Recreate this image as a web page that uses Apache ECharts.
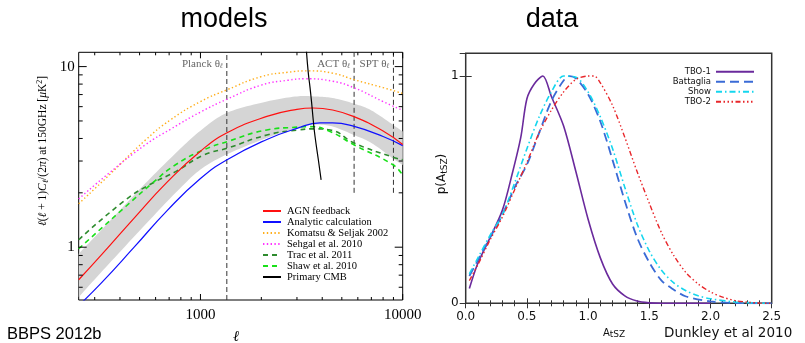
<!DOCTYPE html>
<html><head><meta charset="utf-8">
<script src="https://cdn.jsdelivr.net/npm/echarts@6/dist/echarts.min.js"></script>
<style>html,body{margin:0;padding:0;background:#fff;}#c{width:805px;height:343px;}</style>
</head><body><div id="c"></div>
<script>
// ---------------- LEFT PANEL DATA (models) ----------------
const agnL = [250, 322, 470, 686, 1000, 1354, 2130, 3000, 3600, 4500, 5700, 8000, 10000];
const agnV = [0.66, 0.90, 1.45, 2.3, 3.4, 4.3, 5.3, 5.8, 5.9, 5.75, 5.3, 4.4, 3.7];
const anaL = [250, 322, 470, 686, 1000, 1354, 2130, 3000, 3900, 4500, 5700, 8000, 10000];
const anaV = [0.475, 0.63, 1.0, 1.6, 2.4, 3.05, 3.95, 4.55, 4.88, 4.88, 4.68, 4.1, 3.65];
const ksL = [250, 350, 536, 711, 1000, 1354, 2000, 2700, 3400, 4500, 5800, 8000, 10000];
const ksV = [1.74, 2.48, 3.93, 5.07, 6.4, 7.44, 8.8, 9.3, 9.47, 9.2, 8.44, 7.65, 7.1];
const sgL = [250, 350, 536, 711, 1000, 1354, 2000, 2700, 3300, 4500, 5800, 8000, 10000];
const sgV = [1.85, 2.55, 3.7, 4.5, 5.6, 6.6, 7.9, 8.4, 8.56, 8.3, 7.6, 6.4, 5.72];
const trL = [250, 427, 578, 753, 1038, 1354, 2131, 3000, 3700, 4372, 5763, 8950, 10000];
const trV = [1.1, 1.83, 2.26, 2.62, 3.24, 3.53, 4.18, 4.45, 4.52, 4.46, 3.77, 3.15, 3.05];
const shL = [250, 427, 578, 753, 1038, 1354, 2131, 3000, 3484, 4372, 5763, 8950, 10000];
const shV = [0.98, 1.68, 2.26, 2.86, 3.46, 3.84, 4.46, 4.62, 4.65, 4.37, 3.68, 2.86, 2.5];
const cmbL = [3340, 3414, 3480, 3546, 3615, 3686, 3829, 3950];
const cmbV = [12.3, 9.2, 7.7, 6.3, 5.0, 4.1, 3.04, 2.36];
const bandL  = [250, 353, 516, 753, 1000, 1354, 2131, 3000, 3700, 4500, 5763, 7000, 8950, 10000];
const bandUp = [0.92, 1.38, 2.17, 3.31, 4.42, 5.55, 6.41, 6.84, 6.83, 6.7, 6.23, 5.72, 4.76, 4.37];
const bandLo = [0.53, 0.81, 1.28, 2.0, 2.69, 3.27, 4.03, 4.58, 4.77, 4.66, 4.17, 3.78, 3.1, 2.85];
const planckL = 1350, actL = 5750, sptL = 9000;
const expLineBottom = 2.0;
const leftXRange = [250, 10000];
const leftYRange = [0.51, 12];
const xMajorTicks = [1000, 10000];
const xMinorTicks = [300, 400, 500, 600, 700, 800, 900, 2000, 3000, 4000, 5000, 6000, 7000, 8000, 9000];
const yMajorTicks = [1, 10];
const yMinorTicks = [0.6, 0.7, 0.8, 0.9, 2, 3, 4, 5, 6, 7, 8, 9];

// ---------------- RIGHT PANEL DATA (data) ----------------
const tbo1A = [0.03, 0.1, 0.2, 0.3, 0.38, 0.45, 0.5, 0.56, 0.63, 0.7, 0.8, 0.9, 1.0, 1.1, 1.2, 1.3, 1.4, 1.5, 1.6, 1.8, 2.0];
const tbo1P = [0.065, 0.177, 0.29, 0.41, 0.57, 0.73, 0.9, 0.965, 1.0, 0.91, 0.78, 0.58, 0.37, 0.2, 0.085, 0.033, 0.01, 0.002, 0, 0, 0];
const battA = [0.03, 0.1, 0.2, 0.3, 0.4, 0.5, 0.6, 0.7, 0.8, 0.85, 0.9, 1.0, 1.1, 1.2, 1.3, 1.4, 1.5, 1.6, 1.7, 1.8, 2.0, 2.2, 2.5];
const battP = [0.12, 0.19, 0.29, 0.39, 0.51, 0.61, 0.75, 0.89, 0.98, 1.0, 0.99, 0.92, 0.8, 0.63, 0.45, 0.29, 0.18, 0.10, 0.06, 0.03, 0.008, 0.001, 0];
const showA = [0.03, 0.1, 0.2, 0.3, 0.4, 0.5, 0.6, 0.7, 0.8, 0.9, 1.0, 1.1, 1.2, 1.3, 1.4, 1.5, 1.6, 1.7, 1.8, 1.9, 2.0, 2.2, 2.4, 2.5];
const showP = [0.13, 0.2, 0.3, 0.39, 0.53, 0.68, 0.82, 0.93, 1.0, 0.995, 0.93, 0.82, 0.68, 0.51, 0.35, 0.23, 0.145, 0.09, 0.055, 0.033, 0.02, 0.006, 0.001, 0];
const tbo2A = [0.03, 0.1, 0.2, 0.3, 0.4, 0.5, 0.6, 0.7, 0.8, 0.9, 1.0, 1.05, 1.1, 1.2, 1.3, 1.4, 1.5, 1.6, 1.7, 1.8, 1.9, 2.0, 2.1, 2.2, 2.3, 2.4, 2.5];
const tbo2P = [0.1, 0.17, 0.28, 0.38, 0.5, 0.62, 0.75, 0.85, 0.93, 0.985, 1.0, 1.0, 0.97, 0.87, 0.73, 0.58, 0.44, 0.31, 0.21, 0.135, 0.085, 0.05, 0.027, 0.012, 0.005, 0.001, 0];
const rightXRange = [0, 2.5];
const rightYRange = [0, 1.1];

// ---------------- helpers ----------------
const zip = (xs, ys) => xs.map((x, i) => [x, ys[i]]);
function crSample(pts, n) {
  const out = [];
  for (let i = 0; i < pts.length - 1; i++) {
    const p0 = pts[Math.max(i - 1, 0)], p1 = pts[i], p2 = pts[i + 1], p3 = pts[Math.min(i + 2, pts.length - 1)];
    for (let k = 0; k < n; k++) {
      const t = k / n, t2 = t * t, t3 = t2 * t;
      const f = (a, b, c, d) => 0.5 * (2 * b + (-a + c) * t + (2 * a - 5 * b + 4 * c - d) * t2 + (-a + 3 * b - 3 * c + d) * t3);
      out.push([f(p0[0], p1[0], p2[0], p3[0]), f(p0[1], p1[1], p2[1], p3[1])]);
    }
  }
  out.push(pts[pts.length - 1]);
  return out;
}
const serif = '"Liberation Serif", "DejaVu Serif", serif';
const sans = '"DejaVu Sans", sans-serif';
const isPow10 = v => { const l = Math.log10(v); return Math.abs(l - Math.round(l)) < 1e-6; };

const leftTicks = []
  .concat(xMajorTicks.map(v => ({ axis: 'x', v, major: true })))
  .concat(xMinorTicks.map(v => ({ axis: 'x', v, major: false })))
  .concat(yMajorTicks.map(v => ({ axis: 'y', v, major: true })))
  .concat(yMinorTicks.map(v => ({ axis: 'y', v, major: false })));

function lineSeries(name, xs, ys, color, width, type, xi, smooth) {
  return {
    name, type: 'line', xAxisIndex: xi, yAxisIndex: xi === 0 ? 0 : 1,
    data: zip(xs, ys), smooth: smooth, symbol: 'none', showSymbol: false,
    lineStyle: { color, width, type }, itemStyle: { color }, z: 3, silent: true
  };
}

const chart = echarts.init(document.getElementById('c'));
const option = {
  animation: false,
  backgroundColor: '#fff',
  grid: [
    { left: 78.7, top: 52.3, width: 324, height: 247.7, show: true, borderColor: '#000', borderWidth: 1, backgroundColor: 'transparent' },
    { left: 465.7, top: 53.3, width: 306, height: 250, show: true, borderColor: '#333', borderWidth: 1.5, backgroundColor: 'transparent' }
  ],
  xAxis: [
    { type: 'log', logBase: 10, gridIndex: 0, min: leftXRange[0], max: leftXRange[1],
      axisLine: { show: false }, axisTick: { show: false }, splitLine: { show: false },
      axisLabel: { margin: 8, fontFamily: serif, fontSize: 15, color: '#000',
        formatter: v => isPow10(v) ? String(Math.round(v)) : '' } },
    { type: 'value', gridIndex: 1, min: rightXRange[0], max: rightXRange[1], interval: 0.5,
      axisLine: { show: false }, splitLine: { show: false },
      axisTick: { show: true, inside: true, length: 5, lineStyle: { color: '#333' } },
      minorTick: { show: true, splitNumber: 5, length: 3, lineStyle: { color: '#333' } },
      axisLabel: { margin: 8, fontFamily: sans, fontSize: 12, color: '#111', formatter: v => v.toFixed(1) } },
    { type: 'value', gridIndex: 1, position: 'top', min: rightXRange[0], max: rightXRange[1], interval: 0.5,
      axisLine: { show: false }, splitLine: { show: false },
      axisTick: { show: true, inside: true, length: 5, lineStyle: { color: '#333' } },
      minorTick: { show: true, splitNumber: 5, length: 3, lineStyle: { color: '#333' } },
      axisLabel: { show: false } }
  ],
  yAxis: [
    { type: 'log', logBase: 10, gridIndex: 0, min: leftYRange[0], max: leftYRange[1],
      axisLine: { show: false }, axisTick: { show: false }, splitLine: { show: false },
      axisLabel: { margin: 4, fontFamily: serif, fontSize: 15, color: '#000',
        formatter: v => isPow10(v) ? String(Math.round(v)) : '' } },
    { type: 'value', gridIndex: 1, min: rightYRange[0], max: rightYRange[1], interval: 1,
      axisLine: { show: false }, splitLine: { show: false },
      axisTick: { show: true, inside: true, length: 6, lineStyle: { color: '#333' } },
      axisLabel: { margin: 7, fontFamily: sans, fontSize: 12, color: '#111',
        formatter: v => (v === 0 || v === 1) ? String(v) : '' } },
    { type: 'value', gridIndex: 1, position: 'right', min: rightYRange[0], max: rightYRange[1], interval: 1,
      axisLine: { show: false }, splitLine: { show: false },
      axisTick: { show: true, inside: true, length: 6, lineStyle: { color: '#333' } },
      axisLabel: { show: false } }
  ],
  legend: [
    { data: ['AGN feedback', 'Analytic calculation', 'Komatsu & Seljak 2002', 'Sehgal et al. 2010', 'Trac et al. 2011', 'Shaw et al. 2010', 'Primary CMB'],
      orient: 'vertical', left: 262, top: 205.5, padding: 0, itemGap: 0, itemWidth: 18, itemHeight: 8, align: 'left',
      itemStyle: { opacity: 0, borderWidth: 0 },
      selectedMode: false, textStyle: { fontFamily: serif, fontSize: 10.5, color: '#000', lineHeight: 10, padding: [0, 0, 0, 1] } },
    { data: ['TBO-1', 'Battaglia', 'Show', 'TBO-2'],
      orient: 'vertical', right: 50, top: 66.7, padding: 0, itemGap: 0, itemWidth: 38, itemHeight: 8, align: 'right',
      itemStyle: { opacity: 0, borderWidth: 0 },
      selectedMode: false, textStyle: { fontFamily: sans, fontSize: 8.5, color: '#111', lineHeight: 10 } }
  ],
  series: [
    { type: 'custom', name: 'band', xAxisIndex: 0, yAxisIndex: 0, data: [[1000, 1]], z: 1, silent: true,
      renderItem: (params, api) => {
        const up = bandL.map((l, i) => api.coord([l, bandUp[i]]));
        const lo = bandL.map((l, i) => api.coord([l, bandLo[i]])).reverse();
        const pts = crSample(up, 12).concat(crSample(lo, 12));
        return { type: 'polygon', shape: { points: pts }, style: { fill: '#d5d5d5', stroke: null } };
      } },
    { name: 'planck', type: 'line', xAxisIndex: 0, yAxisIndex: 0, data: [[planckL, leftYRange[0]], [planckL, leftYRange[1]]],
      symbol: 'none', lineStyle: { color: '#333', width: 1, type: [5, 3] }, z: 2, silent: true },
    { name: 'act', type: 'line', xAxisIndex: 0, yAxisIndex: 0, data: [[actL, expLineBottom], [actL, leftYRange[1]]],
      symbol: 'none', lineStyle: { color: '#333', width: 1, type: [5, 3] }, z: 2, silent: true },
    { name: 'spt', type: 'line', xAxisIndex: 0, yAxisIndex: 0, data: [[sptL, expLineBottom], [sptL, leftYRange[1]]],
      symbol: 'none', lineStyle: { color: '#333', width: 1, type: [5, 3] }, z: 2, silent: true },
    lineSeries('Komatsu & Seljak 2002', ksL, ksV, '#ffae1a', 1.4, [1.4, 2.4], 0, true),
    lineSeries('Sehgal et al. 2010', sgL, sgV, '#ff33ff', 1.4, [1.4, 2.4], 0, true),
    lineSeries('Trac et al. 2011', trL, trV, '#2e8b2e', 1.6, [5, 4], 0, true),
    lineSeries('Shaw et al. 2010', shL, shV, '#19e019', 1.6, [5, 4], 0, true),
    lineSeries('Analytic calculation', anaL, anaV, '#1010ff', 1.2, 'solid', 0, true),
    lineSeries('AGN feedback', agnL, agnV, '#ff1010', 1.2, 'solid', 0, true),
    lineSeries('Primary CMB', cmbL, cmbV, '#000000', 1.2, 'solid', 0, true),
    { type: 'custom', name: 'ticks', xAxisIndex: 0, yAxisIndex: 0, z: 10, silent: true,
      data: leftTicks.map(t => t.axis === 'x' ? [t.v, 1] : [1000, t.v]),
      renderItem: (params, api) => {
        const t = leftTicks[params.dataIndex];
        const cs = params.coordSys;
        const st = { stroke: '#000', lineWidth: 1 };
        if (t.axis === 'x') {
          const px = api.coord([t.v, 1])[0];
          const len = t.major ? 6 : 3;
          return { type: 'group', children: [
            { type: 'line', shape: { x1: px, y1: cs.y + cs.height, x2: px, y2: cs.y + cs.height - len }, style: st },
            { type: 'line', shape: { x1: px, y1: cs.y, x2: px, y2: cs.y + len }, style: st } ] };
        }
        const py = api.coord([1000, t.v])[1];
        const len = t.major ? 8 : 4;
        return { type: 'group', children: [
          { type: 'line', shape: { x1: cs.x, y1: py, x2: cs.x + len, y2: py }, style: st },
          { type: 'line', shape: { x1: cs.x + cs.width, y1: py, x2: cs.x + cs.width - len, y2: py }, style: st } ] };
      } },
    lineSeries('TBO-1', tbo1A, tbo1P, '#6a2a9c', 1.6, 'solid', 1, 0.3),
    lineSeries('Battaglia', battA, battP, '#3a6bd6', 1.8, [9, 5], 1, 0.3),
    lineSeries('Show', showA, showP, '#14d6ee', 1.6, [6, 3, 1.5, 3], 1, 0.3),
    lineSeries('TBO-2', tbo2A, tbo2P, '#e8262a', 1.4, [5, 2.5, 1.5, 2.5, 1.5, 2.5, 1.5, 2.5], 1, 0.3)
  ]
};
chart.setOption(option);

const pxPlanck = chart.convertToPixel({ xAxisIndex: 0 }, planckL);
const pxAct = chart.convertToPixel({ xAxisIndex: 0 }, actL);
const pxSpt = chart.convertToPixel({ xAxisIndex: 0 }, sptL);
const thetaRich = { m: { fontFamily: serif, fontSize: 11, fill: '#666', color: '#666' },
                    s: { fontFamily: serif, fontSize: 7, fontStyle: 'italic', fill: '#666', color: '#666', padding: [5, 0, 0, 0] } };
function thetaLabel(x, txt) {
  return { type: 'text', x: x - 4, y: 64, z: 20,
    style: { text: '{m|' + txt + ' θ}{s|ℓ}', rich: thetaRich, textAlign: 'right', align: 'right', textVerticalAlign: 'middle', verticalAlign: 'middle' } };
}
chart.setOption({
  graphic: [
    { type: 'text', x: 224, y: 20, style: { text: 'models', fontFamily: '"Liberation Sans", Arial, sans-serif', fontSize: 27, fill: '#000', textAlign: 'center', align: 'center', textVerticalAlign: 'middle', verticalAlign: 'middle' } },
    { type: 'text', x: 552, y: 20, style: { text: 'data', fontFamily: '"Liberation Sans", Arial, sans-serif', fontSize: 27, fill: '#000', textAlign: 'center', align: 'center', textVerticalAlign: 'middle', verticalAlign: 'middle' } },
    { type: 'text', x: 7, y: 334, style: { text: 'BBPS 2012b', fontFamily: '"Liberation Sans", Arial, sans-serif', fontSize: 16.5, fill: '#000', textAlign: 'left', align: 'left', textVerticalAlign: 'middle', verticalAlign: 'middle' } },
    { type: 'text', x: 664, y: 333, style: { text: 'Dunkley et al 2010', fontFamily: sans, fontSize: 13.5, fill: '#111', textAlign: 'left', align: 'left', textVerticalAlign: 'middle', verticalAlign: 'middle' } },
    { type: 'text', x: 236, y: 337, style: { text: 'ℓ', fontFamily: serif, fontStyle: 'italic', fontSize: 15, fill: '#000', textAlign: 'center', align: 'center', textVerticalAlign: 'middle', verticalAlign: 'middle' } },
    { type: 'text', x: 43, y: 151, rotation: Math.PI / 2,
      style: { text: '{i|ℓ}{m|(}{i|ℓ}{m| + 1)}{i|C}{s|ℓ}{m|/(2}{i|π}{m|) at 150GHz [}{i|μ}{m|K}{p|2}{m|]}',
        rich: {
          m: { fontFamily: serif, fontSize: 11.5, fill: '#000', color: '#000', lineHeight: 14, verticalAlign: 'middle' },
          i: { fontFamily: serif, fontSize: 11.5, fontStyle: 'italic', fill: '#000', color: '#000', lineHeight: 14, verticalAlign: 'middle' },
          s: { fontFamily: serif, fontSize: 8, fontStyle: 'italic', fill: '#000', color: '#000', lineHeight: 8, verticalAlign: 'bottom' },
          p: { fontFamily: serif, fontSize: 8, fill: '#000', color: '#000', lineHeight: 8, verticalAlign: 'top' }
        },
        textAlign: 'center', align: 'center', textVerticalAlign: 'middle', verticalAlign: 'middle' } },
    { type: 'text', x: 442, y: 174, rotation: Math.PI / 2,
      style: { text: '{m|p(A}{s|tSZ}{m|)}',
        rich: {
          m: { fontFamily: sans, fontSize: 12, fill: '#111', color: '#111', lineHeight: 15, verticalAlign: 'middle' },
          s: { fontFamily: sans, fontSize: 9, fill: '#111', color: '#111', lineHeight: 9, verticalAlign: 'bottom' }
        },
        textAlign: 'center', align: 'center', textVerticalAlign: 'middle', verticalAlign: 'middle' } },
    { type: 'text', x: 614, y: 333, style: { text: '{m|A}{s|tSZ}',
        rich: {
          m: { fontFamily: sans, fontSize: 10, fill: '#111', color: '#111', lineHeight: 12, verticalAlign: 'middle' },
          s: { fontFamily: sans, fontSize: 9, fill: '#111', color: '#111', lineHeight: 8, verticalAlign: 'bottom' }
        },
        textAlign: 'center', align: 'center', textVerticalAlign: 'middle', verticalAlign: 'middle' } },
    thetaLabel(pxPlanck, 'Planck'),
    thetaLabel(pxAct, 'ACT'),
    thetaLabel(pxSpt, 'SPT')
  ]
});
</script>
</body></html>
